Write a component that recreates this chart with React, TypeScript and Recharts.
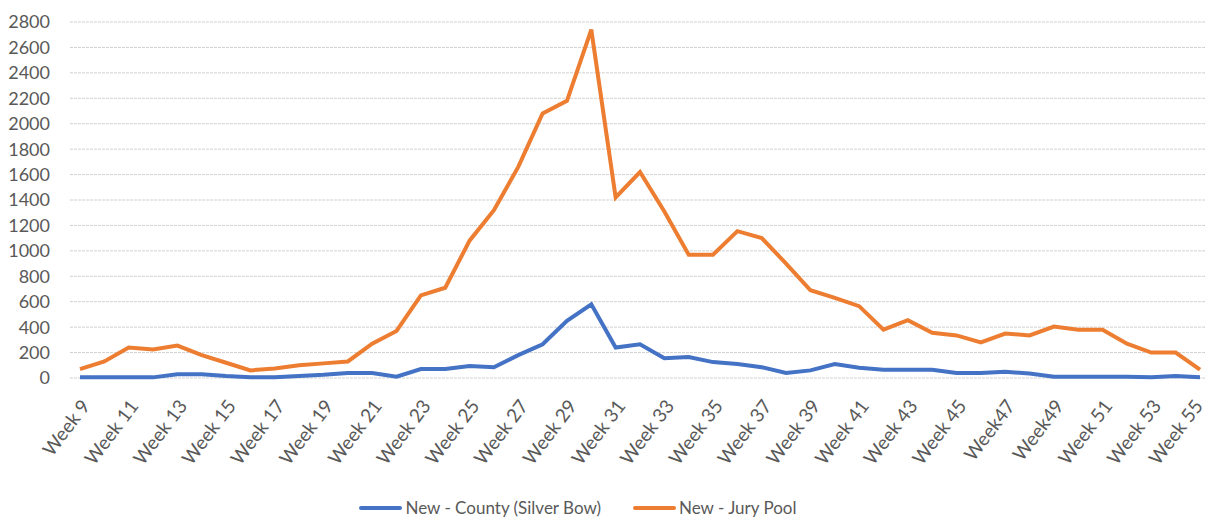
import React from "react"
import { LineChart, Line, XAxis, YAxis, CartesianGrid, Legend } from "recharts"

const weeks = [
  "Week 9", "Week 10", "Week 11", "Week 12", "Week 13", "Week 14", "Week 15", "Week 16",
  "Week 17", "Week 18", "Week 19", "Week 20", "Week 21", "Week 22", "Week 23", "Week 24",
  "Week 25", "Week 26", "Week 27", "Week 28", "Week 29", "Week 30", "Week 31", "Week 32",
  "Week 33", "Week 34", "Week 35", "Week 36", "Week 37", "Week 38", "Week 39", "Week 40",
  "Week 41", "Week 42", "Week 43", "Week 44", "Week 45", "Week 46", "Week47", "Week 48",
  "Week49", "Week 50", "Week 51", "Week 52", "Week 53", "Week 54", "Week 55",
]

const countyNew = [
  5, 5, 5, 5, 30, 30, 15, 5,
  5, 15, 25, 40, 40, 10, 70, 70,
  95, 85, 180, 265, 450, 580, 240, 265,
  155, 165, 125, 110, 85, 40, 60, 110,
  80, 65, 65, 65, 40, 40, 50, 35,
  10, 10, 10, 10, 5, 15, 5,
]

const juryPoolNew = [
  70, 130, 240, 225, 255, 180, 120, 60,
  75, 100, 115, 130, 270, 370, 650, 710,
  1080, 1320, 1660, 2080, 2180, 2740, 1420, 1620,
  1310, 970, 970, 1155, 1100, 900, 690, 630,
  565, 380, 455, 355, 335, 280, 350, 335,
  405, 380, 380, 270, 200, 200, 65,
]

const yTicks = [0, 200, 400, 600, 800, 1000, 1200, 1400, 1600, 1800, 2000, 2200, 2400, 2600, 2800]

const series = [
  { key: "county", label: "New - County (Silver Bow)", color: "#4472C4" },
  { key: "jury", label: "New - Jury Pool", color: "#ED7D31" },
]

const data = weeks.map((week, i) => ({
  week,
  county: countyNew[i],
  jury: juryPoolNew[i],
}))

const font = "Lato, 'Open Sans', sans-serif"

// rotated week label; the last one is nudged left so it stays inside the frame
function WeekTick({ x, y, payload }: any) {
  const last = payload.value === weeks[weeks.length - 1]
  return (
    <g transform={`translate(${x + (last ? -7 : 0)},${y + 12})`}>
      <text
        transform="rotate(-53)"
        textAnchor="end"
        dy="0.71em"
        fontSize={19}
        fill="#595959"
        fontFamily={font}
      >
        {payload.value}
      </text>
    </g>
  )
}

function LegendContent() {
  return (
    <div
      style={{
        display: "flex",
        justifyContent: "center",
        gap: 32,
        paddingRight: 50,
        fontFamily: font,
        fontSize: 17,
        color: "#595959",
      }}
    >
      {series.map((s) => (
        <div key={s.key} style={{ display: "flex", alignItems: "center" }}>
          <span style={{ display: "inline-block", width: 43, height: 4, borderRadius: 2, background: s.color, marginRight: 3 }} />
          <span>{s.label}</span>
        </div>
      ))}
    </div>
  )
}

export default function App() {
  return (
    <div style={{ width: 1206, height: 518, background: "#fff" }}>
      <style>{`body { margin: 0; }`}</style>
      <LineChart width={1206} height={518} data={data} margin={{ top: 22, right: 0, left: 0, bottom: 0 }}>
        <CartesianGrid vertical={false} stroke="#d0d0d0" strokeDasharray="3 1" />
        <XAxis
          dataKey="week"
          interval={1}
          height={96}
          padding={{ left: 10, right: 6 }}
          tickLine={false}
          axisLine={false}
          tick={<WeekTick />}
        />
        <YAxis
          domain={[0, 2800]}
          ticks={yTicks}
          width={70}
          tickLine={false}
          axisLine={false}
          tickSize={0}
          tickMargin={20}
          interval={0}
          tick={{ fontSize: 18, fill: "#595959", fontFamily: font }}
        />
        <Legend verticalAlign="bottom" height={44} content={<LegendContent />} wrapperStyle={{ top: 497 }} />
        {series.map((s) => (
          <Line
            key={s.key}
            type="linear"
            dataKey={s.key}
            name={s.label}
            stroke={s.color}
            strokeWidth={4}
            dot={false}
            activeDot={false}
            isAnimationActive={false}
          />
        ))}
      </LineChart>
    </div>
  )
}
